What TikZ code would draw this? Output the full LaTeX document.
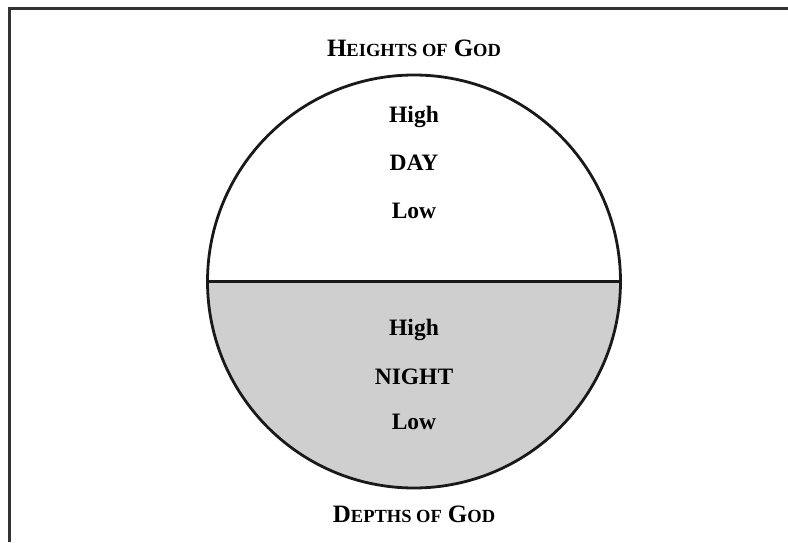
\documentclass[tikz,border=0pt]{standalone}
\usepackage{fontspec}
\setmainfont{Liberation Serif}
\usetikzlibrary{positioning}

% fake small caps: first letter large, rest smaller
\newcommand{\bigsc}[1]{{\fontsize{25}{27}\selectfont #1}}
\newcommand{\smallsc}[1]{{\fontsize{18.5}{20}\selectfont #1}}

\begin{document}
\begin{tikzpicture}[x=1pt, y=1pt,
  label/.style={font=\bfseries\fontsize{23.5}{25}\selectfont, inner sep=0pt},
  heading/.style={font=\bfseries, inner sep=0pt}]

\useasboundingbox (0,0) rectangle (788,542);

% Draw the frame (only top and left edges show)
\draw [line width=3pt, black!80] (9,0) -- (9,533.5) -- (788,533.5);

% Lower half of the circle, shaded
\fill [black!19] (207.5,260.5) arc (180:360:206.5) -- cycle;

% Draw the circle and the dividing line
\draw [line width=2.8pt, black!90] (414,260.5) circle (206.5);
\draw [line width=3.2pt, black!90] (207.5,260.5) -- (620.5,260.5);

% Labels above and below
\node [heading] (heights) at (414,494) {\bigsc{H}\smallsc{EIGHTS OF}\hspace{6pt}\bigsc{G}\smallsc{OD}};
\node [heading] (depths) at (414,28) {\bigsc{D}\smallsc{EPTHS OF}\hspace{6pt}\bigsc{G}\smallsc{OD}};

% Day half
\node [label] (high1) at (414,425) {High};
\node [label] (day) at (414,379) {DAY};
\node [label] (low1) at (414,331) {Low};

% Night half
\node [label] (high2) at (414,212) {High};
\node [label] (night) at (414,165) {NIGHT};
\node [label] (low2) at (414,120) {Low};

\end{tikzpicture}
\end{document}
